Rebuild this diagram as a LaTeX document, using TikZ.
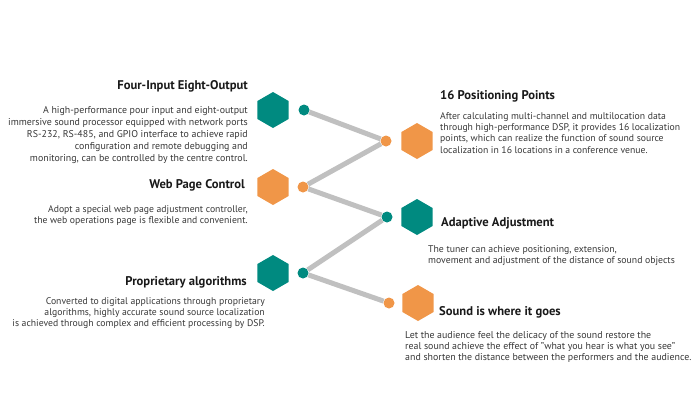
\documentclass[tikz,border=0pt]{standalone}
\usepackage{fontspec}
\setmainfont{PT Sans}
\usepackage{tikz}
\usetikzlibrary{shapes.geometric,positioning}
\definecolor{hexteal}{RGB}{0,138,128}
\definecolor{hexorange}{RGB}{240,150,72}
\definecolor{linkgray}{RGB}{192,192,192}
\definecolor{bodygray}{RGB}{55,55,55}
\newcommand{\bodysize}[2]{\fontsize{#1}{#2}\selectfont}

\begin{document}
\begin{tikzpicture}[x=1pt,y=-1pt,
		hex node/.style={regular polygon,regular polygon sides=6,shape border rotate=30,
			minimum size=36pt,inner sep=0pt},
		dot node/.style={circle,minimum size=11pt,inner sep=0pt},
		link/.style={draw=linkgray,line width=5pt},
		title node/.style={font=\fontsize{12.6}{14}\selectfont\bfseries,text=black!90,inner sep=0pt},
		body node/.style={text=bodygray,inner sep=0pt}]
		\useasboundingbox (0,0) rectangle (700,400);

		% left column
		\node[hex node,fill=hexteal] (h1) at (273,110) {};
		\node[hex node,fill=hexorange] (h3) at (273,187) {};
		\node[hex node,fill=hexteal] (h5) at (273,273) {};
		\node[dot node,fill=hexteal] (d1) at (304,110) {};
		\node[dot node,fill=hexorange] (d3) at (303,187) {};
		\node[dot node,fill=hexteal] (d5) at (303,273) {};

		% right column
		\node[hex node,fill=hexorange] (h2) at (417,141) {};
		\node[hex node,fill=hexteal] (h4) at (417,217) {};
		\node[hex node,fill=hexorange] (h6) at (418,303) {};
		\node[dot node,fill=hexorange] (d2) at (386,141) {};
		\node[dot node,fill=hexteal] (d4) at (387,217) {};
		\node[dot node,fill=hexorange] (d6) at (389,303) {};

		\path[link] (d1) -- (d2) (d2) -- (d3) (d3) -- (d4) (d4) -- (d5) (d5) -- (d6);

		\node[title node,anchor=east] (t1) at (248,86) {Four-Input Eight-Output};
		\node[body node,anchor=north east,align=right,font=\bodysize{9.9}{11.9}] (b1) at (248,106.5) {A high-performance pour input and eight-output\\
			immersive sound processor equipped with network ports\\
			RS-232, RS-485, and GPIO interface to achieve rapid\\
			configuration and remote debugging and\\
			monitoring, can be controlled by the centre control.};

		\node[title node,anchor=east] (t3) at (245,185) {Web Page Control};
		\node[body node,anchor=north east,align=right,font=\bodysize{9.7}{11.2}] (b3) at (248,205.5) {Adopt a special web page adjustment controller,\\
			the web operations page is flexible and convenient.};

		\node[title node,anchor=east] (t5) at (247,282) {Proprietary algorithms};
		\node[body node,anchor=north east,align=right,font=\bodysize{9.7}{10.8}] (b5) at (265,297.5) {Converted to digital applications through proprietary\\
			algorithms, highly accurate sound source localization\\
			is achieved through complex and efficient processing by DSP.};

		\node[title node,anchor=west] (t2) at (440,96) {16 Positioning Points};
		\node[body node,anchor=north west,align=left,font=\bodysize{9.7}{11.4}] (b2) at (440,112) {After calculating multi-channel and multilocation data\\
			through high-performance DSP, it provides 16 localization\\
			points, which can realize the function of sound source\\
			localization in 16 locations in a conference venue.};

		\node[title node,anchor=west] (t4) at (441,223) {Adaptive Adjustment};
		\node[body node,anchor=north west,align=left,font=\bodysize{9.75}{11}] (b4) at (428,245) {The tuner can achieve positioning, extension,\\
			movement and adjustment of the distance of sound objects};

		\node[title node,anchor=west] (t6) at (439,312) {Sound is where it goes};
		\node[body node,anchor=north west,align=left,font=\bodysize{9.9}{11}] (b6) at (405,331.5) {Let the audience feel the delicacy of the sound restore the\\
			real sound achieve the effect of "what you hear is what you see"\\
			and shorten the distance between the performers and the audience.};
\end{tikzpicture}
\end{document}
